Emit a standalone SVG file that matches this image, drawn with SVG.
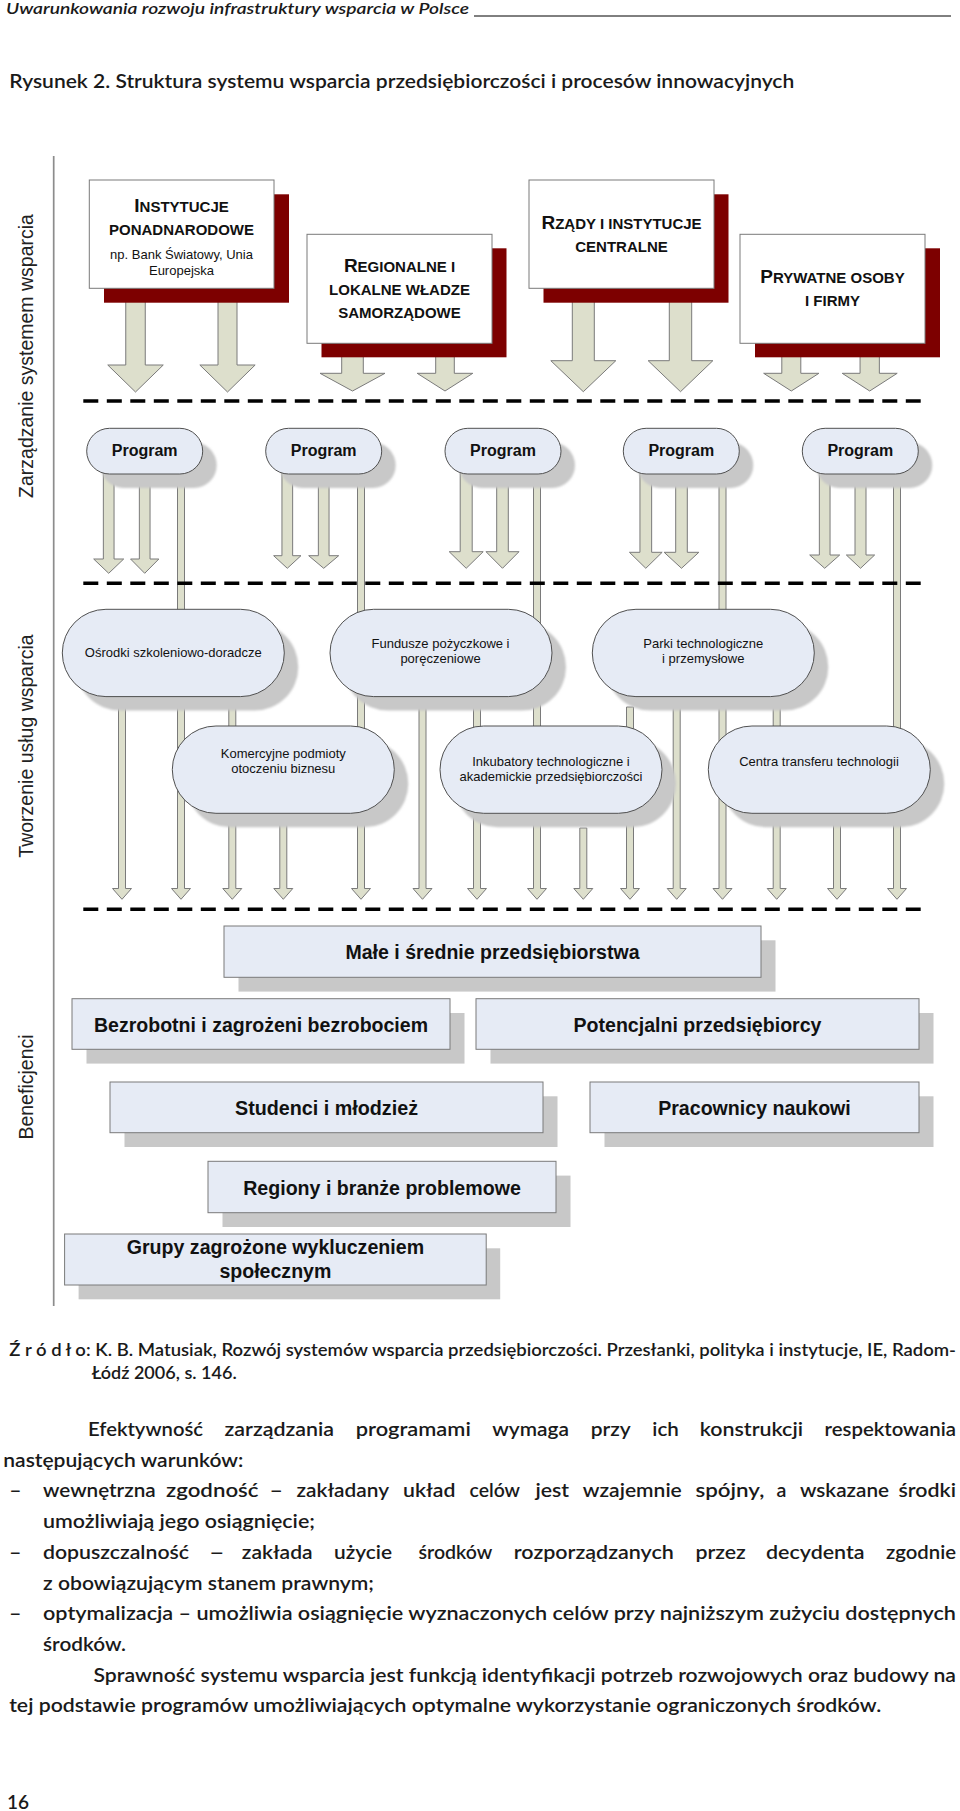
<svg xmlns="http://www.w3.org/2000/svg" width="960" height="1811" viewBox="0 0 960 1811">
<defs>
<style>
.hdr{font-family:Lato,"Liberation Sans",sans-serif;font-style:italic;font-weight:600;font-size:16px;fill:#1a1a1a}
.ttl{font-family:Lato,"Liberation Sans",sans-serif;font-weight:600;font-size:18.5px;fill:#1a1a1a}
.cap{font-family:Lato,"Liberation Sans",sans-serif;font-weight:600;font-size:17px;fill:#1a1a1a}
.body{font-family:Lato,"Liberation Sans",sans-serif;font-weight:600;font-size:19px;fill:#1a1a1a}
.side{font-family:"Liberation Sans",Arial,sans-serif;font-size:19.5px;fill:#222;text-anchor:middle}
.arr{fill:#DDDFCC;stroke:#7A7A7A;stroke-width:1}
.dash{stroke:#000;stroke-width:3.5;stroke-dasharray:15 8.5;fill:none}
.topbox{fill:#fff;stroke:#7a7a7a;stroke-width:1}
.topsh{fill:#7D0000}
.pill{fill:#E6EBF5;stroke:#505050;stroke-width:1}
.sh{fill:#C8C8C8}
.ben{fill:#E6EBF5;stroke:#7a7a7a;stroke-width:1}
.tb{font-family:"Liberation Sans",Arial,sans-serif;font-weight:bold;font-size:15px;fill:#111;text-anchor:middle}
.big{font-size:19px}
.tn{font-family:"Liberation Sans",Arial,sans-serif;font-size:13px;fill:#111;text-anchor:middle}
.prog{font-family:"Liberation Sans",Arial,sans-serif;font-weight:bold;font-size:16px;fill:#111;text-anchor:middle}
.svc{font-family:"Liberation Sans",Arial,sans-serif;font-size:13px;fill:#111;text-anchor:middle}
.bt{font-family:"Liberation Sans",Arial,sans-serif;font-weight:bold;font-size:19.5px;fill:#111;text-anchor:middle}
</style>
<filter id="soft" x="-10%" y="-10%" width="120%" height="120%"><feGaussianBlur stdDeviation="1.2"/></filter>
</defs>
<rect x="0" y="0" width="960" height="1811" fill="#fff"/>

<g id="page-header">
<text class="hdr" x="6" y="14" textLength="463" lengthAdjust="spacingAndGlyphs">Uwarunkowania rozwoju infrastruktury wsparcia w Polsce</text>
<line x1="474" y1="16" x2="951" y2="16" stroke="#000" stroke-width="1"/>
<text class="ttl" x="9.2" y="87.5" textLength="785" lengthAdjust="spacingAndGlyphs">Rysunek 2. Struktura systemu wsparcia przedsiębiorczości i procesów innowacyjnych</text>
</g>

<g id="axis">
<line x1="53.7" y1="156" x2="53.7" y2="1306" stroke="#8c8c8c" stroke-width="1.7"/>
<text class="side" transform="translate(33,356) rotate(-90)">Zarządzanie systemem wsparcia</text>
<text class="side" transform="translate(33,746) rotate(-90)">Tworzenie usług wsparcia</text>
<text class="side" transform="translate(33,1087) rotate(-90)">Beneficjenci</text>
</g>

<g id="connectors">
<polygon class="arr" points="125.75,300 145.25,300 145.25,365 163.25,365 135.5,392 107.75,365 125.75,365"/>
<polygon class="arr" points="218,300 237,300 237,365 255.15,365 227.5,392 199.85,365 218,365"/>
<polygon class="arr" points="341.7,354 363.3,354 363.3,373.3 385,373.3 352.5,391 320,373.3 341.7,373.3"/>
<polygon class="arr" points="435.7,354 454.3,354 454.3,373.3 472.8,373.3 445,391 417.2,373.3 435.7,373.3"/>
<polygon class="arr" points="572.3,300 594.3,300 594.3,360.7 615.8,360.7 583.3,391.7 550.8,360.7 572.3,360.7"/>
<polygon class="arr" points="669.3,300 691.7,300 691.7,360.7 712.85,360.7 680.5,391.7 648.15,360.7 669.3,360.7"/>
<polygon class="arr" points="781.8,354 800.8,354 800.8,373.3 818.95,373.3 791.3,391 763.65,373.3 781.8,373.3"/>
<polygon class="arr" points="860.05,354 879.35,354 879.35,373.3 897.2,373.3 869.7,391 842.2,373.3 860.05,373.3"/>

<polygon class="arr" points="103.35,470 114.05,470 114.05,559 123.7,559 108.7,573.3 93.7,559 103.35,559"/>
<polygon class="arr" points="139.35,470 150.05,470 150.05,559 158.85,559 144.7,573.3 130.55,559 139.35,559"/>
<polygon class="arr" points="281.95,470 292.65,470 292.65,555.7 300.95,555.7 287.3,568.3 273.65,555.7 281.95,555.7"/>
<polygon class="arr" points="318.35,470 329.05,470 329.05,555.7 338.7,555.7 323.7,568.3 308.7,555.7 318.35,555.7"/>
<polygon class="arr" points="460.2,470 472.2,470 472.2,551.7 483.2,551.7 466.2,568.3 449.2,551.7 460.2,551.7"/>
<polygon class="arr" points="496.7,470 508.3,470 508.3,551.7 519,551.7 502.5,568.3 486,551.7 496.7,551.7"/>
<polygon class="arr" points="639.95,470 651.65,470 651.65,552.3 662.15,552.3 645.8,568.3 629.45,552.3 639.95,552.3"/>
<polygon class="arr" points="675.7,470 687.3,470 687.3,552.3 698.85,552.3 681.5,568.3 664.15,552.3 675.7,552.3"/>
<polygon class="arr" points="819.35,470 830.05,470 830.05,555 839.7,555 824.7,568.3 809.7,555 819.35,555"/>
<polygon class="arr" points="855,470 866,470 866,555 874.65,555 860.5,568.3 846.35,555 855,555"/>

<polygon class="arr" points="118.5,700 125.5,700 125.5,888.5 131.5,888.5 122,899.3 112.5,888.5 118.5,888.5"/>
<polygon class="arr" points="177.5,470 184.5,470 184.5,888.5 190.5,888.5 181,899.3 171.5,888.5 177.5,888.5"/>
<polygon class="arr" points="228.8,700 235.8,700 235.8,888.5 241.8,888.5 232.3,899.3 222.8,888.5 228.8,888.5"/>
<polygon class="arr" points="279.8,800 286.8,800 286.8,888.5 292.8,888.5 283.3,899.3 273.8,888.5 279.8,888.5"/>
<polygon class="arr" points="357.5,470 364.5,470 364.5,888.5 370.5,888.5 361,899.3 351.5,888.5 357.5,888.5"/>
<polygon class="arr" points="419,700 426,700 426,888.5 432,888.5 422.5,899.3 413,888.5 419,888.5"/>
<polygon class="arr" points="473.5,700 480.5,700 480.5,888.5 486.5,888.5 477,899.3 467.5,888.5 473.5,888.5"/>
<polygon class="arr" points="533.5,470 540.5,470 540.5,888.5 546.5,888.5 537,899.3 527.5,888.5 533.5,888.5"/>
<polygon class="arr" points="579.8,828 586.8,828 586.8,888.5 592.8,888.5 583.3,899.3 573.8,888.5 579.8,888.5"/>
<polygon class="arr" points="626.5,707 633.5,707 633.5,888.5 639.5,888.5 630,899.3 620.5,888.5 626.5,888.5"/>
<polygon class="arr" points="673.2,700 680.2,700 680.2,888.5 686.2,888.5 676.7,899.3 667.2,888.5 673.2,888.5"/>
<polygon class="arr" points="719,470 726,470 726,888.5 732,888.5 722.5,899.3 713,888.5 719,888.5"/>
<polygon class="arr" points="773.2,700 780.2,700 780.2,888.5 786.2,888.5 776.7,899.3 767.2,888.5 773.2,888.5"/>
<polygon class="arr" points="833.5,800 840.5,800 840.5,888.5 846.5,888.5 837,899.3 827.5,888.5 833.5,888.5"/>
<polygon class="arr" points="893.5,470 900.5,470 900.5,888.5 906.5,888.5 897,899.3 887.5,888.5 893.5,888.5"/>
</g>

<g id="separators">
<line class="dash" x1="83.3" y1="401" x2="920.7" y2="401"/>
<line class="dash" x1="83.3" y1="583.3" x2="920.7" y2="583.3"/>
<line class="dash" x1="83.3" y1="909.3" x2="920.7" y2="909.3"/>
</g>

<g id="node-instytucje-ponadnarodowe">
<rect class="topsh" x="104" y="194.3" width="185" height="108.4"/>
<rect class="topbox" x="89.3" y="180" width="184.7" height="108.3"/>
<text class="tb" x="181.5" y="211.7"><tspan class="big">I</tspan>NSTYTUCJE</text>
<text class="tb" x="181.5" y="235">PONADNARODOWE</text>
<text class="tn" x="181.5" y="259">np. Bank Światowy, Unia</text>
<text class="tn" x="181.5" y="274.5">Europejska</text>
</g>
<g id="node-regionalne">
<rect class="topsh" x="321.5" y="248.3" width="185" height="109"/>
<rect class="topbox" x="307" y="234.3" width="185" height="109"/>
<text class="tb" x="399.5" y="272"><tspan class="big">R</tspan>EGIONALNE I</text>
<text class="tb" x="399.5" y="295">LOKALNE WŁADZE</text>
<text class="tb" x="399.5" y="318.3">SAMORZĄDOWE</text>
</g>
<g id="node-rzady">
<rect class="topsh" x="543.5" y="194.3" width="185" height="108.4"/>
<rect class="topbox" x="529" y="180" width="185" height="108.3"/>
<text class="tb" x="621.5" y="229"><tspan class="big">R</tspan>ZĄDY I INSTYTUCJE</text>
<text class="tb" x="621.5" y="252">CENTRALNE</text>
</g>
<g id="node-prywatne">
<rect class="topsh" x="755" y="248.3" width="185" height="109"/>
<rect class="topbox" x="740" y="234.3" width="185" height="109"/>
<text class="tb" x="832.5" y="283"><tspan class="big">P</tspan>RYWATNE OSOBY</text>
<text class="tb" x="832.5" y="306">I FIRMY</text>
</g>

<g id="node-program-1">
<rect class="sh" filter="url(#soft)" x="100.7" y="442.3" width="116" height="45.7" rx="22.85"/>
<rect class="pill" x="86.7" y="428.3" width="116" height="45.7" rx="22.85"/>
<text class="prog" x="144.7" y="456">Program</text>
</g>
<g id="node-program-2">
<rect class="sh" filter="url(#soft)" x="279.7" y="442.3" width="116" height="45.7" rx="22.85"/>
<rect class="pill" x="265.7" y="428.3" width="116" height="45.7" rx="22.85"/>
<text class="prog" x="323.7" y="456">Program</text>
</g>
<g id="node-program-3">
<rect class="sh" filter="url(#soft)" x="459" y="442.3" width="116" height="45.7" rx="22.85"/>
<rect class="pill" x="445" y="428.3" width="116" height="45.7" rx="22.85"/>
<text class="prog" x="503" y="456">Program</text>
</g>
<g id="node-program-4">
<rect class="sh" filter="url(#soft)" x="637.3" y="442.3" width="116" height="45.7" rx="22.85"/>
<rect class="pill" x="623.3" y="428.3" width="116" height="45.7" rx="22.85"/>
<text class="prog" x="681.3" y="456">Program</text>
</g>
<g id="node-program-5">
<rect class="sh" filter="url(#soft)" x="816.3" y="442.3" width="116" height="45.7" rx="22.85"/>
<rect class="pill" x="802.3" y="428.3" width="116" height="45.7" rx="22.85"/>
<text class="prog" x="860.3" y="456">Program</text>
</g>

<g id="node-osrodki">
<rect class="sh" filter="url(#soft)" x="76.3" y="623.3" width="222" height="87.3" rx="43.65"/>
<rect class="pill" x="62.3" y="609.3" width="222" height="87.3" rx="43.65"/>
<text class="svc" x="173.3" y="656.7">Ośrodki szkoleniowo-doradcze</text>
</g>
<g id="node-fundusze">
<rect class="sh" filter="url(#soft)" x="344" y="623.3" width="222" height="87.3" rx="43.65"/>
<rect class="pill" x="330" y="609.3" width="222" height="87.3" rx="43.65"/>
<text class="svc" x="440.5" y="648.3">Fundusze pożyczkowe i</text>
<text class="svc" x="440.5" y="663.3">poręczeniowe</text>
</g>
<g id="node-parki">
<rect class="sh" filter="url(#soft)" x="606.3" y="623.3" width="222" height="87.3" rx="43.65"/>
<rect class="pill" x="592.3" y="609.3" width="222" height="87.3" rx="43.65"/>
<text class="svc" x="703.3" y="648.3">Parki technologiczne</text>
<text class="svc" x="703.3" y="663.3">i przemysłowe</text>
</g>
<g id="node-komercyjne">
<rect class="sh" filter="url(#soft)" x="186.3" y="740" width="222" height="87.3" rx="43.65"/>
<rect class="pill" x="172.3" y="726" width="222" height="87.3" rx="43.65"/>
<text class="svc" x="283.3" y="758">Komercyjne podmioty</text>
<text class="svc" x="283.3" y="773">otoczeniu biznesu</text>
</g>
<g id="node-inkubatory">
<rect class="sh" filter="url(#soft)" x="454" y="740" width="222" height="87.3" rx="43.65"/>
<rect class="pill" x="440" y="726" width="222" height="87.3" rx="43.65"/>
<text class="svc" x="551" y="765.7">Inkubatory technologiczne i</text>
<text class="svc" x="551" y="780.7">akademickie przedsiębiorczości</text>
</g>
<g id="node-centra">
<rect class="sh" filter="url(#soft)" x="722.3" y="740" width="222" height="87.3" rx="43.65"/>
<rect class="pill" x="708.3" y="726" width="222" height="87.3" rx="43.65"/>
<text class="svc" x="819" y="765.7">Centra transferu technologii</text>
</g>

<g id="node-male-srednie">
<rect class="sh" x="238.5" y="940.3" width="537" height="51.3"/>
<rect class="ben" x="224" y="926" width="537" height="51.3"/>
<text class="bt" x="492.5" y="958.5" textLength="294" lengthAdjust="spacingAndGlyphs">Małe i średnie przedsiębiorstwa</text>
</g>
<g id="node-bezrobotni">
<rect class="sh" x="86.5" y="1013" width="378" height="50.6"/>
<rect class="ben" x="72" y="998.7" width="378" height="50.6"/>
<text class="bt" x="261" y="1031.5" textLength="334" lengthAdjust="spacingAndGlyphs">Bezrobotni i zagrożeni bezrobociem</text>
</g>
<g id="node-potencjalni">
<rect class="sh" x="490.5" y="1013" width="443" height="50.6"/>
<rect class="ben" x="476" y="998.7" width="443" height="50.6"/>
<text class="bt" x="697.5" y="1031.5" textLength="248" lengthAdjust="spacingAndGlyphs">Potencjalni przedsiębiorcy</text>
</g>
<g id="node-studenci">
<rect class="sh" x="124.5" y="1096.3" width="433" height="50.7"/>
<rect class="ben" x="110" y="1082" width="433" height="50.7"/>
<text class="bt" x="326.5" y="1114.8" textLength="183" lengthAdjust="spacingAndGlyphs">Studenci i młodzież</text>
</g>
<g id="node-pracownicy">
<rect class="sh" x="604.5" y="1096.3" width="329" height="50.7"/>
<rect class="ben" x="590" y="1082" width="329" height="50.7"/>
<text class="bt" x="754.5" y="1114.8" textLength="192.6" lengthAdjust="spacingAndGlyphs">Pracownicy naukowi</text>
</g>
<g id="node-regiony">
<rect class="sh" x="222.5" y="1175.6" width="348" height="51.4"/>
<rect class="ben" x="208" y="1161.3" width="348" height="51.4"/>
<text class="bt" x="382" y="1194.5" textLength="277.6" lengthAdjust="spacingAndGlyphs">Regiony i branże problemowe</text>
</g>
<g id="node-grupy">
<rect class="sh" x="78.6" y="1248.3" width="421.6" height="51"/>
<rect class="ben" x="64.6" y="1234" width="421.6" height="51"/>
<text class="bt" x="275.4" y="1254" textLength="297.4" lengthAdjust="spacingAndGlyphs">Grupy zagrożone wykluczeniem</text>
<text class="bt" x="275.4" y="1277.5" textLength="112" lengthAdjust="spacingAndGlyphs">społecznym</text>
</g>

<g id="caption">
<text class="cap" x="9.3" y="1356" textLength="946.7" lengthAdjust="spacingAndGlyphs">Ź r ó d ł o: K. B. Matusiak, Rozwój systemów wsparcia przedsiębiorczości. Przesłanki, polityka i instytucje, IE, Radom-</text>
<text class="cap" x="91.7" y="1379" textLength="145" lengthAdjust="spacingAndGlyphs">Łódź 2006, s. 146.</text>
</g>

<g id="body-text">
<text class="body" x="88" y="1436" textLength="115" lengthAdjust="spacingAndGlyphs">Efektywność</text>
<text class="body" x="224.6" y="1436" textLength="109.4" lengthAdjust="spacingAndGlyphs">zarządzania</text>
<text class="body" x="355.7" y="1436" textLength="115.1" lengthAdjust="spacingAndGlyphs">programami</text>
<text class="body" x="492.3" y="1436" textLength="76.7" lengthAdjust="spacingAndGlyphs">wymaga</text>
<text class="body" x="590.8" y="1436" textLength="40" lengthAdjust="spacingAndGlyphs">przy</text>
<text class="body" x="652.3" y="1436" textLength="26.5" lengthAdjust="spacingAndGlyphs">ich</text>
<text class="body" x="699.7" y="1436" textLength="103.3" lengthAdjust="spacingAndGlyphs">konstrukcji</text>
<text class="body" x="824.6" y="1436" textLength="131.4" lengthAdjust="spacingAndGlyphs">respektowania</text>

<text class="body" x="3.3" y="1466.7" textLength="240" lengthAdjust="spacingAndGlyphs">następujących warunków:</text>

<text class="body" x="9.2" y="1497.4" textLength="12.3" lengthAdjust="spacingAndGlyphs">–</text>
<text class="body" x="43" y="1497.4" textLength="112.7" lengthAdjust="spacingAndGlyphs">wewnętrzna</text>
<text class="body" x="166" y="1497.4" textLength="92.5" lengthAdjust="spacingAndGlyphs">zgodność</text>
<text class="body" x="269.5" y="1497.4" textLength="13.5" lengthAdjust="spacingAndGlyphs">–</text>
<text class="body" x="296.6" y="1497.4" textLength="92.4" lengthAdjust="spacingAndGlyphs">zakładany</text>
<text class="body" x="403" y="1497.4" textLength="52.4" lengthAdjust="spacingAndGlyphs">układ</text>
<text class="body" x="469.5" y="1497.4" textLength="50.5" lengthAdjust="spacingAndGlyphs">celów</text>
<text class="body" x="535.4" y="1497.4" textLength="33.6" lengthAdjust="spacingAndGlyphs">jest</text>
<text class="body" x="582.8" y="1497.4" textLength="99" lengthAdjust="spacingAndGlyphs">wzajemnie</text>
<text class="body" x="695.4" y="1497.4" textLength="68.9" lengthAdjust="spacingAndGlyphs">spójny,</text>
<text class="body" x="776.6" y="1497.4" textLength="9.9" lengthAdjust="spacingAndGlyphs">a</text>
<text class="body" x="800" y="1497.4" textLength="89" lengthAdjust="spacingAndGlyphs">wskazane</text>
<text class="body" x="898.5" y="1497.4" textLength="57.5" lengthAdjust="spacingAndGlyphs">środki</text>

<text class="body" x="43" y="1528.1" textLength="272" lengthAdjust="spacingAndGlyphs">umożliwiają jego osiągnięcie;</text>

<text class="body" x="9" y="1558.8" textLength="12.5" lengthAdjust="spacingAndGlyphs">–</text>
<text class="body" x="43" y="1558.8" textLength="146" lengthAdjust="spacingAndGlyphs">dopuszczalność</text>
<text class="body" x="209" y="1558.8" textLength="15.6" lengthAdjust="spacingAndGlyphs">–</text>
<text class="body" x="241.8" y="1558.8" textLength="70.8" lengthAdjust="spacingAndGlyphs">zakłada</text>
<text class="body" x="334" y="1558.8" textLength="58" lengthAdjust="spacingAndGlyphs">użycie</text>
<text class="body" x="418.5" y="1558.8" textLength="73.8" lengthAdjust="spacingAndGlyphs">środków</text>
<text class="body" x="513.8" y="1558.8" textLength="160" lengthAdjust="spacingAndGlyphs">rozporządzanych</text>
<text class="body" x="695.4" y="1558.8" textLength="50.4" lengthAdjust="spacingAndGlyphs">przez</text>
<text class="body" x="766" y="1558.8" textLength="98.6" lengthAdjust="spacingAndGlyphs">decydenta</text>
<text class="body" x="886" y="1558.8" textLength="70" lengthAdjust="spacingAndGlyphs">zgodnie</text>

<text class="body" x="43" y="1589.5" textLength="331" lengthAdjust="spacingAndGlyphs">z obowiązującym stanem prawnym;</text>

<text class="body" x="9" y="1620.2" textLength="12.5" lengthAdjust="spacingAndGlyphs">–</text>
<text class="body" x="43" y="1620.2" textLength="913" lengthAdjust="spacingAndGlyphs">optymalizacja – umożliwia osiągnięcie wyznaczonych celów przy najniższym zużyciu dostępnych</text>

<text class="body" x="43" y="1650.9" textLength="83" lengthAdjust="spacingAndGlyphs">środków.</text>

<text class="body" x="93.5" y="1681.6" textLength="862.5" lengthAdjust="spacingAndGlyphs">Sprawność systemu wsparcia jest funkcją identyfikacji potrzeb rozwojowych oraz budowy na</text>
<text class="body" x="9.2" y="1712.3" textLength="872" lengthAdjust="spacingAndGlyphs">tej podstawie programów umożliwiających optymalne wykorzystanie ograniczonych środków.</text>

<text class="body" x="7" y="1809">16</text>
</g>
</svg>
